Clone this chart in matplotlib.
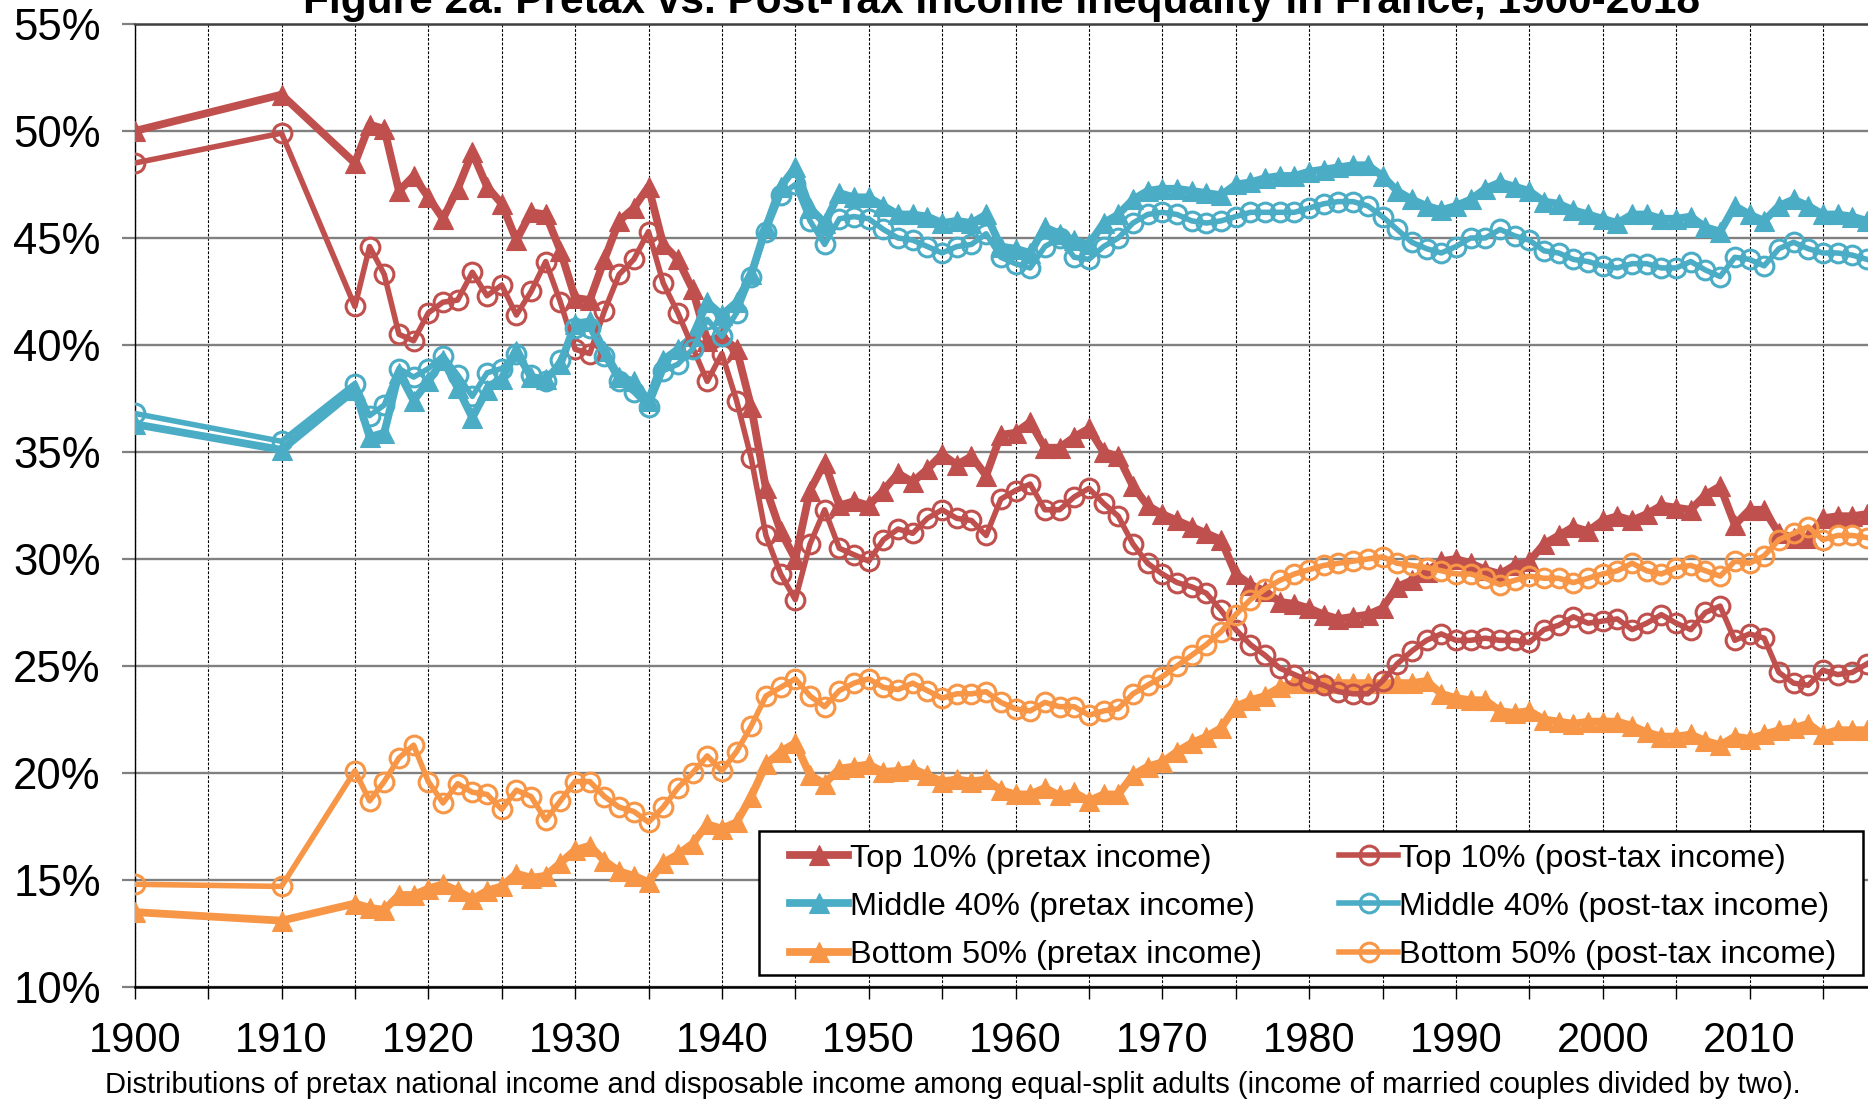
import numpy as np
import matplotlib
matplotlib.use("Agg")
import matplotlib.pyplot as plt
from matplotlib.patches import Rectangle

plt.rcParams['font.family'] = ['Liberation Sans', 'DejaVu Sans']

# anni: 1900, 1910 e poi annuali dal 1915
years = [1900, 1910] + list(range(1915, 2019))

# quote di reddito (%)
t10_pre = [50.0, 51.7,
           48.5, 50.3, 50.1, 47.2, 47.9, 46.9, 45.9, 47.3, 49.0, 47.4,   # 1915-1924
           46.6, 44.9, 46.2, 46.1, 44.4, 42.2, 42.1, 44.0, 45.8, 46.4,   # 1925-1934
           47.4, 44.7, 44.0, 42.6, 40.2, 40.4, 39.8, 37.1, 33.3, 31.3,   # 1935-1944
           30.0, 33.2, 34.5, 32.5, 32.7, 32.5, 33.2, 34.0, 33.6, 34.2,   # 1945-1954
           34.9, 34.4, 34.8, 33.9, 35.8, 35.9, 36.4, 35.2, 35.2, 35.7,   # 1955-1964
           36.1, 35.0, 34.8, 33.4, 32.5, 32.1, 31.8, 31.5, 31.2, 30.9,   # 1965-1974
           29.3, 28.8, 28.5, 28.0, 27.9, 27.7, 27.4, 27.2, 27.3, 27.4,   # 1975-1984
           27.7, 28.7, 29.0, 29.4, 29.9, 30.0, 29.8, 29.5, 29.3, 29.7,   # 1985-1994
           29.9, 30.7, 31.1, 31.5, 31.3, 31.8, 32.0, 31.8, 32.1, 32.5,   # 1995-2004
           32.4, 32.3, 33.0, 33.4, 31.6, 32.3, 32.3, 31.2, 31.0, 31.0,   # 2005-2014
           31.9, 32.0, 32.0, 32.1]                                       # 2015-2018

t10_post = [48.5, 49.9,
            41.8, 44.6, 43.3, 40.5, 40.2, 41.5, 42.0, 42.1, 43.4, 42.3,
            42.8, 41.4, 42.5, 43.9, 42.0, 39.8, 39.6, 41.6, 43.3, 44.0,
            45.3, 42.9, 41.5, 39.9, 38.3, 39.6, 37.4, 34.7, 31.1, 29.3,
            28.1, 30.7, 32.3, 30.5, 30.2, 29.9, 30.9, 31.4, 31.2, 31.9,
            32.3, 31.9, 31.8, 31.1, 32.8, 33.2, 33.5, 32.3, 32.3, 32.9,
            33.3, 32.6, 32.0, 30.7, 29.8, 29.3, 28.9, 28.7, 28.4, 27.6,
            26.7, 26.0, 25.5, 24.9, 24.6, 24.3, 24.1, 23.8, 23.7, 23.7,
            24.3, 25.1, 25.7, 26.2, 26.5, 26.2, 26.2, 26.3, 26.2, 26.2,
            26.1, 26.7, 26.9, 27.3, 27.0, 27.1, 27.2, 26.7, 27.0, 27.4,
            27.0, 26.7, 27.5, 27.8, 26.2, 26.5, 26.3, 24.7, 24.2, 24.1,
            24.8, 24.6, 24.7, 25.1]

m40_pre = [36.3, 35.1,
           37.9, 35.7, 35.9, 38.7, 37.4, 38.3, 39.3, 38.0, 36.6, 37.9,
           38.4, 39.7, 38.5, 38.4, 39.1, 41.0, 41.1, 39.7, 38.5, 38.3,
           37.4, 39.3, 39.8, 40.4, 42.0, 41.4, 42.0, 43.3, 45.5, 47.4,
           48.3, 46.4, 45.7, 47.1, 46.9, 46.9, 46.5, 46.1, 46.1, 46.0,
           45.7, 45.8, 45.7, 46.1, 44.6, 44.5, 44.3, 45.5, 45.2, 44.9,
           44.7, 45.7, 46.1, 46.8, 47.2, 47.3, 47.3, 47.2, 47.1, 47.0,
           47.5, 47.6, 47.8, 47.9, 47.9, 48.1, 48.2, 48.3, 48.4, 48.4,
           47.9, 47.2, 46.8, 46.5, 46.3, 46.5, 46.8, 47.3, 47.6, 47.4,
           47.2, 46.7, 46.6, 46.3, 46.1, 45.9, 45.7, 46.1, 46.1, 45.9,
           45.9, 46.0, 45.5, 45.3, 46.5, 46.1, 45.8, 46.5, 46.8, 46.5,
           46.1, 46.1, 46.0, 45.8]

m40_post = [36.8, 35.5,
            38.2, 36.7, 37.2, 38.9, 38.5, 38.9, 39.5, 38.6, 37.6, 38.7,
            38.9, 39.6, 38.6, 38.3, 39.3, 40.8, 40.8, 39.5, 38.3, 37.8,
            37.1, 38.8, 39.1, 39.8, 41.2, 40.4, 41.5, 43.2, 45.3, 47.0,
            47.5, 45.8, 44.7, 45.9, 46.0, 45.9, 45.4, 45.0, 44.9, 44.6,
            44.3, 44.6, 44.7, 45.2, 44.1, 43.8, 43.6, 44.6, 45.0, 44.1,
            44.0, 44.6, 45.0, 45.7, 46.1, 46.2, 46.1, 45.8, 45.7, 45.8,
            46.0, 46.2, 46.2, 46.2, 46.2, 46.4, 46.6, 46.7, 46.7, 46.5,
            46.0, 45.4, 44.8, 44.5, 44.3, 44.6, 45.0, 45.0, 45.4, 45.1,
            44.9, 44.4, 44.3, 44.0, 43.9, 43.7, 43.6, 43.8, 43.8, 43.6,
            43.6, 43.9, 43.5, 43.2, 44.1, 44.0, 43.7, 44.5, 44.8, 44.5,
            44.3, 44.3, 44.2, 44.0]

b50_pre = [13.5, 13.1,
           13.9, 13.7, 13.6, 14.3, 14.3, 14.6, 14.8, 14.5, 14.1, 14.5,
           14.7, 15.3, 15.1, 15.2, 15.8, 16.4, 16.6, 15.9, 15.4, 15.2,
           14.9, 15.8, 16.2, 16.7, 17.6, 17.4, 17.7, 18.9, 20.4, 21.0,
           21.4, 19.9, 19.5, 20.2, 20.3, 20.4, 20.05, 20.1, 20.2, 19.9,
           19.6, 19.7, 19.6, 19.7, 19.2, 19.0, 19.0, 19.3, 18.95, 19.1,
           18.7, 19.0, 19.0, 19.9, 20.3, 20.5, 21.0, 21.4, 21.7, 22.1,
           23.1, 23.4, 23.6, 24.0, 24.2, 24.2, 24.2, 24.2, 24.2, 24.2,
           24.2, 24.2, 24.2, 24.3, 23.7, 23.5, 23.4, 23.4, 22.9, 22.8,
           22.9, 22.5, 22.4, 22.3, 22.4, 22.4, 22.4, 22.2, 21.9, 21.7,
           21.7, 21.8, 21.5, 21.3, 21.7, 21.6, 21.8, 22.0, 22.1, 22.3,
           21.8, 22.0, 22.0, 22.0]

b50_post = [14.8, 14.7,
            20.1, 18.7, 19.6, 20.7, 21.3, 19.6, 18.6, 19.5, 19.1, 19.0,
            18.3, 19.2, 18.9, 17.8, 18.7, 19.6, 19.6, 18.9, 18.4, 18.2,
            17.7, 18.4, 19.3, 20.0, 20.8, 20.1, 21.0, 22.2, 23.6, 24.0,
            24.4, 23.6, 23.1, 23.85, 24.2, 24.4, 24.0, 23.9, 24.2, 23.85,
            23.5, 23.7, 23.7, 23.8, 23.3, 23.0, 22.9, 23.3, 23.1, 23.1,
            22.7, 22.9, 23.0, 23.7, 24.1, 24.5, 25.0, 25.5, 26.0, 26.6,
            27.4, 28.1, 28.6, 29.0, 29.3, 29.5, 29.7, 29.8, 29.9, 30.0,
            30.1, 29.8, 29.7, 29.6, 29.45, 29.3, 29.3, 29.1, 28.8, 29.0,
            29.2, 29.1, 29.1, 28.9, 29.1, 29.3, 29.45, 29.8, 29.45, 29.3,
            29.6, 29.7, 29.45, 29.2, 29.9, 29.8, 30.15, 30.9, 31.2, 31.5,
            30.9, 31.1, 31.1, 31.0]

labels_pre = ["Top 10% (pretax income)", "Middle 40% (pretax income)", "Bottom 50% (pretax income)"]
labels_post = ["Top 10% (post-tax income)", "Middle 40% (post-tax income)", "Bottom 50% (post-tax income)"]
colors = ["#C0504D", "#4BACC6", "#F79646"]

fig = plt.figure(figsize=(18.68, 11.02), dpi=100)
ax = fig.add_axes([134.7 / 1868, 1 - 987 / 1102, (1868 - 134.7) / 1868, 963 / 1102])

# pretax: triangoli pieni, post-tax: cerchi vuoti
h_pre = []
for vals, c, lab in zip([t10_pre, m40_pre, b50_pre], colors, labels_pre):
    l, = ax.plot(years, vals, color=c, lw=5.6, marker='^', ms=14.5,
                 mec=c, mfc=c, mew=0.8, label=lab, zorder=3)
    h_pre.append(l)
h_post = []
for vals, c, lab in zip([t10_post, m40_post, b50_post], colors, labels_post):
    l, = ax.plot(years, vals, color=c, lw=4.0, marker='o', ms=13.5,
                 mec=c, mfc='none', mew=2.2, label=lab, zorder=3)
    h_post.append(l)

ax.set_xlim(1900, 1900 + (1868 - 134.7) / 14.68)
ax.set_ylim(10, 55)

yt = list(range(10, 60, 5))
ax.set_yticks(yt)
ax.set_yticklabels([f"{v}%" for v in yt])
xt = list(range(1900, 2020, 5))
ax.set_xticks(xt)
ax.set_xticklabels([str(v) if v % 10 == 0 else "" for v in xt])

ax.tick_params(axis='y', labelsize=31.5, length=9.5, width=1.6, color='#808080', pad=15)
ax.tick_params(axis='x', labelsize=30, length=8.6, width=1, pad=16)

# griglia: orizzontale grigia, verticale tratteggiata
ax.grid(axis='y', color='#808080', lw=1.7, zorder=0)
ax.grid(axis='x', color='black', lw=0.8, ls=(0, (2.5, 1.5)), zorder=0)
ax.set_axisbelow(True)

ax.spines['right'].set_visible(False)
ax.spines['top'].set_color('#404040')
ax.spines['top'].set_linewidth(1.8)
ax.spines['left'].set_linewidth(1.0)
ax.spines['bottom'].set_linewidth(1.8)

# riquadro legenda
box = Rectangle((0.360, 0.0125), 0.637, 0.1495, transform=ax.transAxes,
                facecolor='white', edgecolor='black', lw=1.8, zorder=4)
ax.add_patch(box)

leg_kw = dict(loc='upper left', frameon=False, fontsize=23.4, borderpad=0,
              handlelength=1.8, handletextpad=0.05, labelspacing=0.56,
              borderaxespad=0)
leg1 = ax.legend(handles=h_pre, bbox_to_anchor=(0.378, 0.149), **leg_kw)
leg1.set_zorder(5)
ax.add_artist(leg1)
leg2 = ax.legend(handles=h_post, bbox_to_anchor=(0.695, 0.149), **leg_kw)
leg2.set_zorder(5)

fig.text(0.536, 1 - 13 / 1102,
         "Figure 2a. Pretax vs. Post-Tax Income Inequality in France, 1900-2018",
         ha='center', va='baseline', fontsize=30.5, fontweight='bold')
fig.text(0.510, 1 - 1085 / 1102,
         "Distributions of pretax national income and disposable income among "
         "equal-split adults (income of married couples divided by two).",
         ha='center', va='center', fontsize=21)

fig.savefig("out.png", dpi=100)
